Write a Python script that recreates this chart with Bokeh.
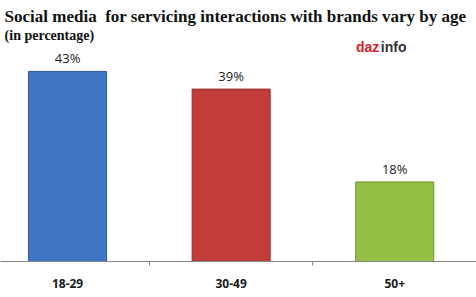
from bokeh.plotting import figure
from bokeh.models import Range1d, FixedTicker, Label, ColumnDataSource
from bokeh.core.properties import value
from bokeh.embed import file_html
from bokeh.resources import INLINE

categories = ["18-29", "30-49", "50+"]
values = [43, 39, 18]
labels = ["43%", "39%", "18%"]
colors = ["#3f76c4", "#c23d3a", "#95bf45"]
outlines = ["#2c5a99", "#952c2a", "#6f9330"]

xs = list(range(len(categories)))
src = ColumnDataSource(dict(x=xs, top=values, lab=labels, color=colors, line=outlines))

p = figure(width=476, height=297, output_backend="svg", toolbar_location=None,
           x_range=Range1d(-0.41, 2.50), y_range=Range1d(0, 59.05),
           min_border_left=0, min_border_right=0, min_border_top=0, min_border_bottom=36)
p.outline_line_color = None
p.xgrid.visible = False
p.ygrid.visible = False
p.yaxis.visible = False
p.background_fill_color = "white"
p.border_fill_color = "white"

p.vbar(x="x", top="top", width=0.477, bottom=0, source=src,
       fill_color="color", line_color="line", line_width=1)

p.text(x="x", y="top", text="lab", source=src, y_offset=-13,
       text_align="center", text_baseline="middle",
       text_font=value("Open Sans"), text_font_size="13px", text_color="#1a1a1a")

xa = p.xaxis[0]
xa.ticker = FixedTicker(ticks=xs, minor_ticks=[0.5, 1.5])
xa.major_label_overrides = {i: c for i, c in enumerate(categories)}
xa.major_tick_out = 0
xa.major_tick_in = 0
xa.minor_tick_out = 4
xa.minor_tick_in = 0
xa.minor_tick_line_color = "#868686"
xa.axis_line_color = "#868686"
xa.major_label_standoff = 13
xa.major_label_text_font = "Open Sans"
xa.major_label_text_font_style = "bold"
xa.major_label_text_font_size = "12px"
xa.major_label_text_color = "#1a1a1a"

title = Label(x=-0.385, y=55.4, text="Social media\u00a0 for servicing interactions with brands vary by age",
              text_font="Liberation Serif", text_font_style="bold", text_font_size="17px",
              text_baseline="middle", text_color="#111111")
sub = Label(x=-0.385, y=51.2, text="(in percentage)",
            text_font="Liberation Serif", text_font_style="bold", text_font_size="14px",
            text_baseline="middle", text_color="#111111")
logo1 = Label(x=1.763, y=48.5, text="daz", text_font="Liberation Sans", text_font_style="bold",
              text_font_size="14px", text_baseline="middle", text_color="#d8202a")
logo2 = Label(x=1.915, y=48.5, text="info", text_font="Liberation Sans", text_font_style="bold",
              text_font_size="14px", text_baseline="middle", text_color="#333333")
for a in (title, sub, logo1, logo2):
    p.add_layout(a)

open("out.html", "w").write(file_html(p, INLINE))
